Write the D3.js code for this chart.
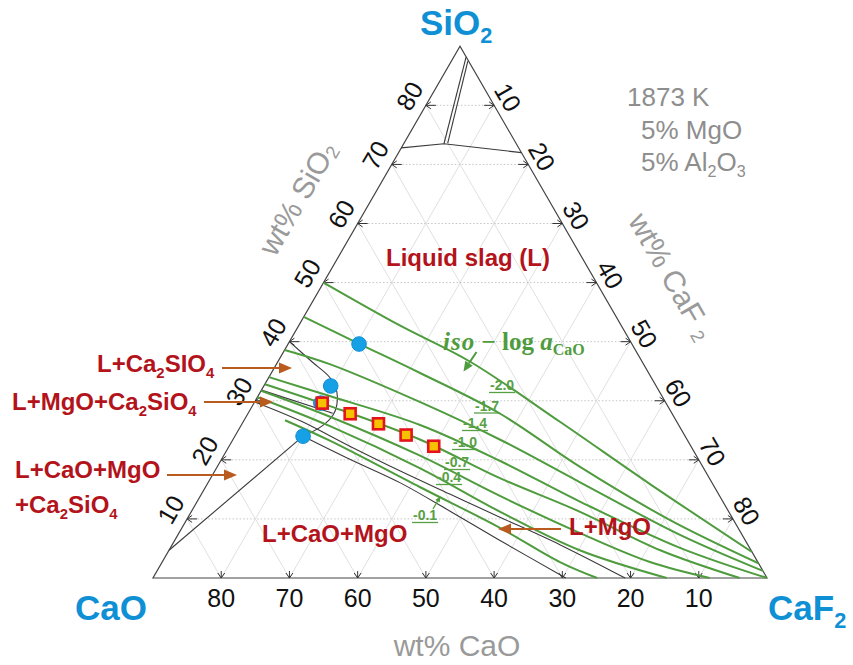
<!DOCTYPE html>
<html>
<head>
<meta charset="utf-8">
<script src="https://cdn.jsdelivr.net/npm/d3@7"></script>
<style>
  body { margin: 0; background: #fff; }
  svg { display: block; }
</style>
</head>
<body>
<svg id="chart" width="853" height="665"></svg>
<script>
// Compositions in wt% as [SiO2, CaF2]; CaO = 90 - SiO2 - CaF2 (5% MgO, 5% Al2O3 fixed)
const tickValues = [10, 20, 30, 40, 50, 60, 70, 80];

// iso-log a(CaO) lines
const isoLabels = ["-2.0", "-1.7", "-1.4", "-1.0", "-0.7", "-0.4", "", "-0.1"];
const iso20 = [[50, 0], [42.7, 14.9], [36.6, 28.2], [26.4, 46.5], [15.9, 64.9], [4.4, 85.6]];
const iso17 = [[44.2, 0], [39.6, 10.5], [34.7, 21.8], [27.8, 37.0], [18.8, 53.2], [9.8, 70.9], [2.5, 87.5]];
const iso14 = [[38.6, 0], [36.2, 7.8], [29.8, 24.2], [23.4, 39.2], [16.2, 54.5], [7.3, 73.6], [1.2, 88.8]];
const iso10 = [[34.0, 0], [30.8, 10.5], [25.9, 26.2], [19.8, 41.0], [12.9, 56.2], [5.1, 74.7], [0, 90]];
const iso07 = [[32.8, 0], [29.1, 11.4], [23.4, 27.5], [16.9, 42.4], [11.2, 57.0], [4.7, 72.0], [0, 86.0]];
const iso04 = [[31.7, 0], [27.3, 12.3], [20.7, 28.8], [13.9, 43.9], [7.6, 58.8], [2.7, 71.5], [0, 81.6]];
const isoMid = [[30.6, 0], [25.7, 13.1], [18.6, 29.8], [11.2, 45.3], [4.7, 60.2], [0, 75.3]];
const iso01 = [[26.7, 6.0], [23.2, 14.4], [15.4, 31.4], [8.5, 46.6], [2.7, 58.3], [0, 65.1]];

// phase boundaries
const liqMgO = [[29.8, 0], [26.6, 8.3], [22.3, 17.7], [18.1, 27.2], [14.2, 36.4], [10.3, 45.7], [5.6, 56.9], [0, 69.2]];
const mgoCaO = [[24.0, 10.0], [20.1, 18.8], [16.1, 28.2], [11.3, 37.9], [6.4, 47.6], [0, 60.5]];
const c2sCurve = [[40, 0], [36.6, 5.0], [33.9, 9.0], [31.5, 11.2], [29.3, 12.3], [27.6, 12.6], [25.7, 11.9], [24.0, 10.0]];
const c2sLower = [[24.0, 10.0], [4.7, 0]];
const tieLine = [[31.8, 0], [27.9, 12.4]];
const silicaSide = [[72.8, 0], [73.5, 5.9], [72, 18]];
const silicaWedgeA = [[73.5, 5.9], [88.2, 1.8]];
const silicaWedgeB = [[73.6, 6.4], [87.5, 2.4]];

// measured compositions
const circleSiO2 = [39.6, 32.5, 29.6, 24.0];
const circleCaF2 = [10.4, 9.8, 9.8, 10.0];
const squareSiO2 = [29.6, 27.8, 26.1, 24.2, 22.3];
const squareCaF2 = [10, 15, 20, 25, 30];

const svg = d3.select("#chart");
const W = 614, X0 = 153, Y0 = 578, K = Math.sqrt(3) / 2;
const s = d3.scaleLinear().domain([0, 90]).range([0, W]);
const P = d => [X0 + s(d[1] + d[0] / 2), Y0 - s(d[0]) * K];
const straight = d3.line().x(d => P(d)[0]).y(d => P(d)[1]);
const smooth = d3.line().x(d => P(d)[0]).y(d => P(d)[1]).curve(d3.curveCatmullRom.alpha(0.5));

const SANS = "'Liberation Sans', Arial, sans-serif";

function rich(sel, parts, size) {
  let shifted = false;
  parts.forEach(p => {
    const sub = Array.isArray(p);
    const t = sel.append("tspan").text(sub ? p[0] : p);
    if (sub) {
      t.attr("font-size", size * 0.62).attr("dy", size * 0.24);
      shifted = true;
    } else {
      t.attr("font-size", size);
      if (shifted) t.attr("dy", -size * 0.24);
      shifted = false;
    }
  });
  return sel;
}

// grid
const grid = svg.append("g").attr("fill", "none");
tickValues.forEach(v => {
  grid.append("path").attr("d", straight([[v, 0], [v, 90 - v]]))
    .attr("stroke", "#c4c4c4").attr("stroke-width", 1).attr("stroke-dasharray", "1.5,2");
  grid.append("path").attr("d", straight([[0, v], [90 - v, v]]))
    .attr("stroke", "#e0e0e0").attr("stroke-width", 1);
  grid.append("path").attr("d", straight([[0, 90 - v], [90 - v, 0]]))
    .attr("stroke", "#e0e0e0").attr("stroke-width", 1);
});

// frame
svg.append("path")
  .attr("d", straight([[0, 0], [0, 90], [90, 0]]) + "Z")
  .attr("fill", "none").attr("stroke", "#444").attr("stroke-width", 1.2);

// tick arrows
const ticks = svg.append("g").attr("fill", "none").attr("stroke", "#333").attr("stroke-width", 1);
function tickArrow(tip, ux, uy, len) {
  const head = 5, wing = 3.5;
  const px = -uy, py = ux;
  const tail = [tip[0] - ux * len, tip[1] - uy * len];
  ticks.append("path").attr("d",
    `M${tail[0]},${tail[1]}L${tip[0]},${tip[1]}` +
    `M${tip[0] - ux * head + px * wing},${tip[1] - uy * head + py * wing}L${tip[0]},${tip[1]}` +
    `L${tip[0] - ux * head - px * wing},${tip[1] - uy * head - py * wing}`);
}
const tickLabels = svg.append("g").attr("font-family", SANS).attr("font-size", 25).attr("fill", "#111");
tickValues.forEach(v => {
  // left side: wt% SiO2
  const l = P([v, 0]);
  tickArrow(l, -1, 0, 10);
  const lx = l[0] - 0.866 * 19, ly = l[1] - 0.5 * 19;
  tickLabels.append("text").attr("x", 0).attr("y", 0)
    .attr("transform", `translate(${lx},${ly}) rotate(-60)`)
    .attr("text-anchor", "middle").attr("dominant-baseline", "central").text(v);
  // right side: wt% CaF2
  const r = P([90 - v, v]);
  tickArrow(r, 1, 0, 10);
  const rx = r[0] + 0.866 * 16, ry = r[1] - 0.5 * 16;
  tickLabels.append("text").attr("x", 0).attr("y", 0)
    .attr("transform", `translate(${rx},${ry}) rotate(60)`)
    .attr("text-anchor", "middle").attr("dominant-baseline", "central").text(v);
  // bottom: wt% CaO
  const b = P([0, 90 - v]);
  tickArrow(b, 0, 1, 7);
  tickLabels.append("text").attr("x", b[0]).attr("y", b[1] + 20)
    .attr("text-anchor", "middle").attr("dominant-baseline", "central").text(v);
});

// phase boundaries
const bnd = svg.append("g").attr("fill", "none").attr("stroke", "#3a3a3a").attr("stroke-width", 1.1);
[liqMgO, mgoCaO, c2sCurve].forEach(d => bnd.append("path").attr("d", smooth(d)));
[c2sLower, tieLine, silicaSide, silicaWedgeA, silicaWedgeB].forEach(d => bnd.append("path").attr("d", straight(d)));

// iso-activity lines
const isoLines = [iso20, iso17, iso14, iso10, iso07, iso04, isoMid, iso01];
svg.append("g").attr("fill", "none").attr("stroke", "#4f9c3e").attr("stroke-width", 2)
  .selectAll("path").data(isoLines).join("path").attr("d", d => smooth(d));

// iso line labels (underlined)
const isoLabelPos = [[490, 390], [475, 410.5], [463, 428], [453, 447], [445, 467], [437, 482], null, [413, 520]];
const lab = svg.append("g").attr("font-family", SANS).attr("font-weight", "bold").attr("font-size", 14).attr("fill", "#58a046");
isoLabels.forEach((t, i) => {
  if (!t) return;
  const [x, y] = isoLabelPos[i];
  const txt = lab.append("text").attr("x", x).attr("y", y).text(t);
  const w = txt.node().getComputedTextLength();
  lab.append("line").attr("x1", x - 1).attr("x2", x + w + 1).attr("y1", y + 2.5).attr("y2", y + 2.5)
    .attr("stroke", "#58a046").attr("stroke-width", 1.3);
});

// pointer to the -0.1 line
function filledArrow(g, x1, y1, x2, y2, color, sw, hl, hw) {
  const dx = x2 - x1, dy = y2 - y1, L = Math.hypot(dx, dy), ux = dx / L, uy = dy / L;
  const bx = x2 - ux * hl, by = y2 - uy * hl;
  g.append("line").attr("x1", x1).attr("y1", y1).attr("x2", bx).attr("y2", by)
    .attr("stroke", color).attr("stroke-width", sw);
  g.append("path").attr("d",
    `M${x2},${y2}L${bx - uy * hw / 2},${by + ux * hw / 2}L${bx + uy * hw / 2},${by - ux * hw / 2}Z`)
    .attr("fill", color);
}
const ann = svg.append("g");
filledArrow(ann, 433, 509, 440.5, 496, "#4f9c3e", 1.3, 6, 5);

// iso - log a_CaO title
const isoTitle = svg.append("text").attr("x", 443).attr("y", 350)
  .attr("font-family", "'Liberation Serif', 'DejaVu Serif', serif").attr("fill", "#4f9c3e")
  .attr("font-size", 25).attr("font-weight", "bold");
isoTitle.append("tspan").attr("font-style", "italic").attr("letter-spacing", 1).text("iso");
isoTitle.append("tspan").text(" \u2212 ");
isoTitle.append("tspan").text("log ");
isoTitle.append("tspan").attr("font-style", "italic").text("a");
isoTitle.append("tspan").attr("font-size", 16).attr("dy", 5).text("CaO");
filledArrow(ann, 476.5, 352, 463.5, 371.5, "#4f9c3e", 2, 10, 9);

// markers
svg.append("g").selectAll("circle").data(circleSiO2).join("circle")
  .attr("cx", (d, i) => P([d, circleCaF2[i]])[0])
  .attr("cy", (d, i) => P([d, circleCaF2[i]])[1])
  .attr("r", 7.3).attr("fill", "#16a0e6").attr("stroke", "#0b8ed6").attr("stroke-width", 1);
svg.append("g").selectAll("rect").data(squareSiO2).join("rect")
  .attr("x", (d, i) => P([d, squareCaF2[i]])[0] - 5.5)
  .attr("y", (d, i) => P([d, squareCaF2[i]])[1] - 5.5)
  .attr("width", 11).attr("height", 11)
  .attr("fill", "#f6c200").attr("stroke", "#e5121c").attr("stroke-width", 2.6);

// region labels
const RED = "#b3131b", BROWN = "#b95a1e";
const reg = svg.append("g").attr("font-family", SANS).attr("font-weight", "bold").attr("fill", RED);
function regionLabel(x, y, parts, anchor) {
  const t = reg.append("text").attr("x", x).attr("y", y).attr("text-anchor", anchor || "start");
  rich(t, parts, 24);
}
regionLabel(386, 266, ["Liquid slag (L)"]);
regionLabel(97, 372, ["L+Ca", ["2"], "SIO", ["4"]]);
regionLabel(12, 410, ["L+MgO+Ca", ["2"], "SiO", ["4"]]);
regionLabel(15, 478, ["L+CaO+MgO"]);
regionLabel(15, 513, ["+Ca", ["2"], "SiO", ["4"]]);
regionLabel(262, 542, ["L+CaO+MgO"]);
regionLabel(569, 535, ["L+MgO"]);

filledArrow(ann, 222, 368, 292, 368, BROWN, 1.8, 13, 11);
filledArrow(ann, 204, 402, 273, 402, BROWN, 1.8, 13, 11);
filledArrow(ann, 167, 475, 237, 475, BROWN, 1.8, 13, 11);
filledArrow(ann, 561, 529, 498, 529, BROWN, 1.8, 13, 11);

// vertex labels
const BLUE = "#0f8fd4";
const vtx = svg.append("g").attr("font-family", SANS).attr("font-weight", "bold").attr("fill", BLUE);
rich(vtx.append("text").attr("x", 420).attr("y", 35), ["SiO", ["2"]], 35);
rich(vtx.append("text").attr("x", 75).attr("y", 620), ["CaO"], 35);
rich(vtx.append("text").attr("x", 768).attr("y", 620), ["CaF", ["2"]], 35);

// axis titles
const GRAY = "#9a9a9a";
const ttl = svg.append("g").attr("font-family", SANS).attr("fill", GRAY);
rich(ttl.append("text").attr("text-anchor", "middle").attr("dominant-baseline", "central")
  .attr("transform", "translate(297,198) rotate(-60)"), ["wt% SiO", ["2"]], 30);
rich(ttl.append("text").attr("text-anchor", "middle").attr("dominant-baseline", "central")
  .attr("transform", "translate(672,276) rotate(60)"), ["wt% CaF ", ["2"]], 30);
rich(ttl.append("text").attr("x", 457).attr("y", 656).attr("text-anchor", "middle"), ["wt% CaO"], 30);

// conditions
const cond = svg.append("g").attr("font-family", SANS).attr("fill", "#8e8e8e");
rich(cond.append("text").attr("x", 627).attr("y", 106), ["1873 K"], 26);
rich(cond.append("text").attr("x", 641).attr("y", 139), ["5% MgO"], 26);
rich(cond.append("text").attr("x", 641).attr("y", 171), ["5% Al", ["2"], "O", ["3"]], 26);
</script>
</body>
</html>
